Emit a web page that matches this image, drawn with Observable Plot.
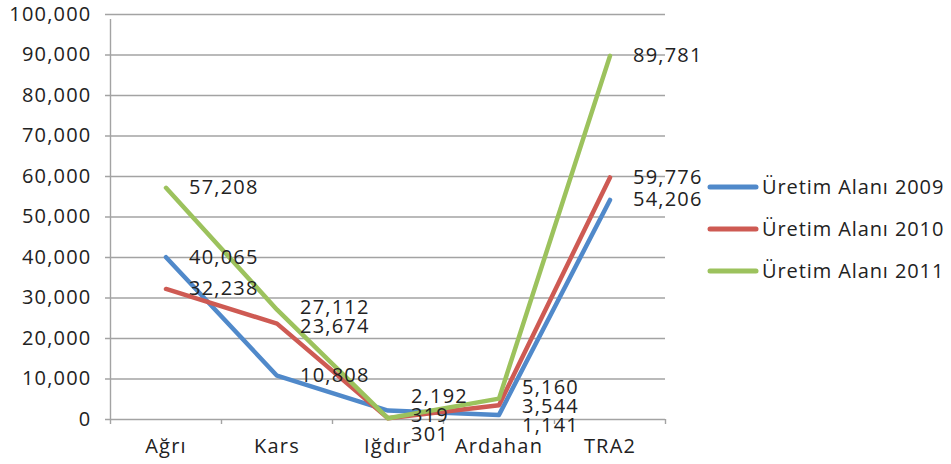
<!DOCTYPE html>
<html>
<head>
<meta charset="utf-8">
<script src="https://cdn.jsdelivr.net/npm/d3@7"></script>
<script src="https://cdn.jsdelivr.net/npm/@observablehq/plot@0.6"></script>
<style>
  html, body { margin: 0; padding: 0; background: #fff; }
  #chart { width: 951px; height: 464px; }
  #chart text { letter-spacing: 1.2px; }
  #chart g.legend text { letter-spacing: 0.9px; }
</style>
</head>
<body>
<div id="chart"></div>
<script>
const categories = ["Ağrı", "Kars", "Iğdır", "Ardahan", "TRA2"];
const seriesNames = ["Üretim Alanı 2009", "Üretim Alanı 2010", "Üretim Alanı 2011"];
const values2009 = [40065, 10808, 2192, 1141, 54206];
const values2010 = [32238, 23674, 319, 3544, 59776];
const values2011 = [57208, 27112, 301, 5160, 89781];
const seriesColors = ["#5089CA", "#CE5A53", "#9CC25D"];
const yTicks = [0, 10000, 20000, 30000, 40000, 50000, 60000, 70000, 80000, 90000, 100000];

const W = 951, H = 464;
const mL = 110, mR = 286, mT = 14, mB = 45;
const FONT = "Open Sans";
const FS = 20;
const textColor = "#222";
const gridColor = "#a3a3a3";

const allValues = [values2009, values2010, values2011];
const data = [];
allValues.forEach((vals, s) => {
  vals.forEach((v, i) => data.push({i, cat: categories[i], series: seriesNames[s], value: v}));
});

const yDomain = [0, 100000];
const yScale = Plot.scale({y: {domain: yDomain, range: [H - mB, mT]}});

// dodge overlapping data labels vertically (label collision avoidance)
const SPACING = 19;
const labels = [];
categories.forEach((c, i) => {
  const items = data.filter(d => d.i === i).map(d => ({...d, py: yScale.apply(d.value)}));
  items.sort((a, b) => a.py - b.py);
  let clusters = items.map(it => ({items: [it]}));
  const place = cl => {
    const mean = d3.mean(cl.items, d => d.py);
    const n = cl.items.length;
    cl.items.forEach((it, k) => it.ly = mean + (k - (n - 1) / 2) * SPACING);
    cl.top = cl.items[0].ly; cl.bottom = cl.items[n - 1].ly;
  };
  clusters.forEach(place);
  let merged = true;
  while (merged) {
    merged = false;
    for (let k = 1; k < clusters.length; k++) {
      if (clusters[k].top - clusters[k - 1].bottom < SPACING - 0.01) {
        clusters[k - 1].items = clusters[k - 1].items.concat(clusters[k].items);
        clusters.splice(k, 1);
        place(clusters[k - 1]);
        merged = true;
        break;
      }
    }
  }
  items.forEach(it => labels.push({...it, lv: yScale.invert(it.ly)}));
});

const boundaries = d3.range(categories.length + 1).map(k => k - 0.5);
const fmt = d3.format(",");

const plot = Plot.plot({
  width: W, height: H,
  marginLeft: mL, marginRight: mR, marginTop: mT, marginBottom: mB,
  style: {fontFamily: FONT, fontSize: FS + "px", color: textColor, background: "#fff"},
  x: {type: "linear", domain: [-0.5, categories.length - 0.5], axis: null, label: null},
  y: {domain: yDomain, axis: null, label: null},
  color: {domain: seriesNames, range: seriesColors},
  marks: [
    Plot.ruleY(yTicks, {stroke: gridColor, strokeWidth: 1.4, insetLeft: -5}),
    Plot.ruleX([-0.5], {y1: 0, y2: 100000, stroke: gridColor, strokeWidth: 1.4, insetBottom: -5}),
    Plot.axisX({ticks: boundaries, tickSize: 5, tickFormat: () => "", stroke: gridColor, strokeWidth: 1.4, label: null}),
    Plot.axisX({ticks: d3.range(categories.length), tickSize: 0, tickPadding: 19, label: null,
      tickFormat: i => categories[i], fill: textColor, fontSize: FS}),
    Plot.axisY({ticks: yTicks, tickSize: 0, tickPadding: 19, tickFormat: fmt, fill: textColor, fontSize: FS, label: null}),
    Plot.line(data, {x: "i", y: "value", z: "series", stroke: "series", strokeWidth: 4.5,
      strokeLinejoin: "round", strokeLinecap: "round"}),
    Plot.text(labels, {x: "i", y: "lv", text: d => fmt(d.value), dx: 23, textAnchor: "start",
      fill: textColor, fontSize: FS})
  ]
});

// legend
const svg = d3.select(plot);
const lg = svg.append("g").attr("class", "legend").attr("font-family", FONT).attr("font-size", FS).attr("text-anchor", "start");
const legendY0 = 187, legendStep = 42;
seriesNames.forEach((name, k) => {
  const y = legendY0 + k * legendStep;
  lg.append("line").attr("x1", 710).attr("x2", 756).attr("y1", y).attr("y2", y)
    .attr("stroke", seriesColors[k]).attr("stroke-width", 5).attr("stroke-linecap", "round");
  lg.append("text").attr("x", 762).attr("y", y).attr("dy", "0.35em")
    .attr("text-anchor", "start").attr("fill", textColor).text(name);
});

document.getElementById("chart").appendChild(plot);
</script>
</body>
</html>
